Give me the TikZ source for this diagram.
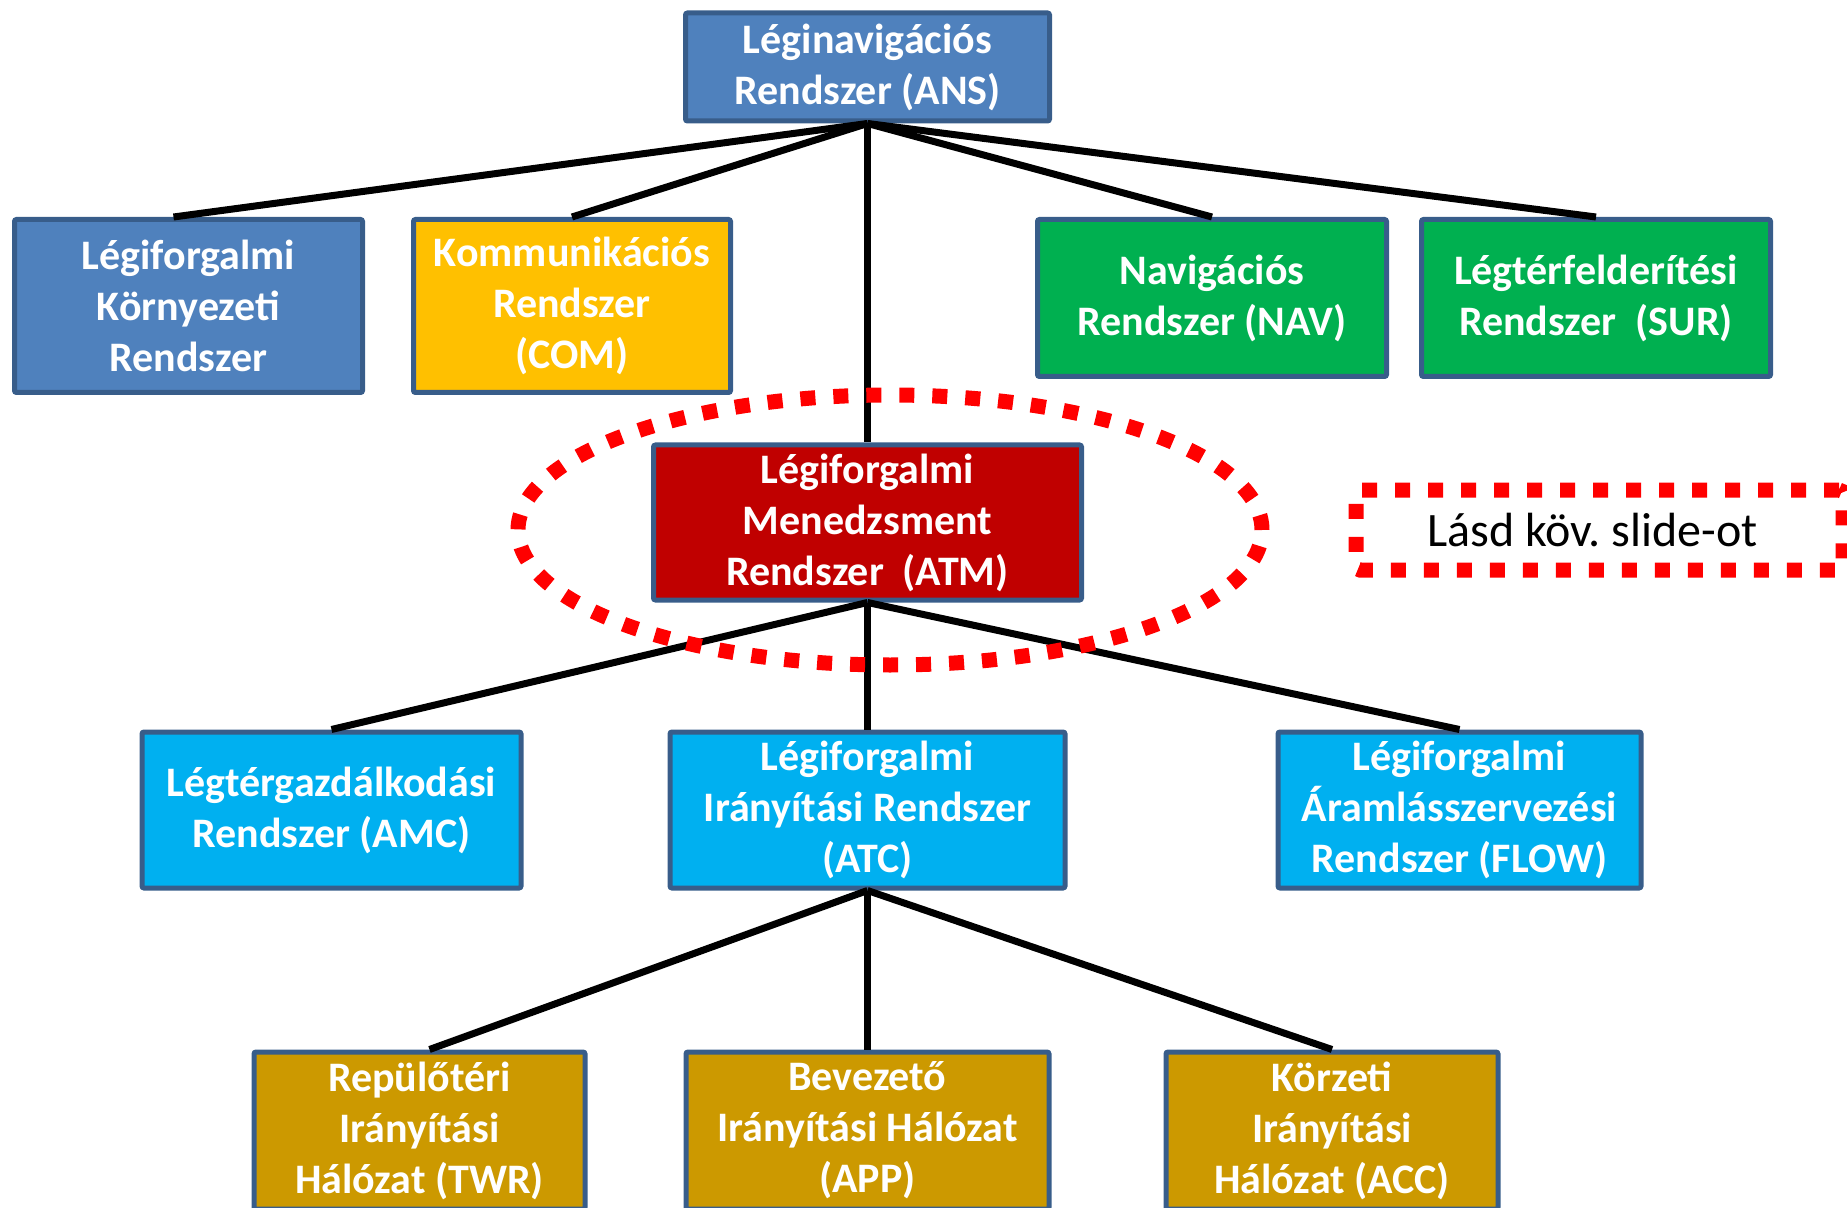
\documentclass[tikz,border=0pt]{standalone}
\usepackage{fontspec}
\setmainfont{Carlito}
\usetikzlibrary{positioning,calc}

\definecolor{ansblue}{HTML}{4F81BD}
\definecolor{boxline}{HTML}{385D8A}
\definecolor{comyellow}{HTML}{FFC000}
\definecolor{navgreen}{HTML}{00B050}
\definecolor{atmred}{HTML}{C00000}
\definecolor{atccyan}{HTML}{00B0F0}
\definecolor{netgold}{HTML}{CC9900}

\begin{document}
\begin{tikzpicture}[x=1pt,y=1pt,
		box/.style={draw=boxline,line width=2.5pt,rounded corners=1pt,text=white,align=center,
			inner sep=0pt,font=\fontsize{21}{25.5}\selectfont\bfseries},
		link/.style={line width=3.5pt},
		dots/.style={draw=red,line width=7.5pt,dash pattern=on 7.5pt off 9pt}]
		\useasboundingbox (0,0) rectangle (923.5,-604);
		
		\node[box,fill=ansblue,minimum width=182pt,minimum height=54pt] (ans) at (433.75,-33.5) {Léginavigációs\\Rendszer (ANS)};
		
		\node[box,fill=ansblue,minimum width=174pt,minimum height=86.5pt,anchor=north west] (env) at (6,-108.5) {Légiforgalmi\\Környezeti\\Rendszer};
		\node[box,fill=comyellow,minimum width=158.5pt,minimum height=86.5pt,right=23pt of env] (com) {Kommunikációs\\Rendszer\\(COM)};
		\node[box,fill=navgreen,minimum width=174.5pt,minimum height=78.5pt,anchor=north west] (nav) at (517.5,-108.5) {Navigációs\\Rendszer (NAV)};
		\node[box,fill=navgreen,minimum width=174.5pt,minimum height=78.5pt,right=15pt of nav] (sur) {Légtérfelderítési\\Rendszer \ (SUR)};
		
		\node[box,fill=atmred,minimum width=214pt,minimum height=77.5pt,below=159.5pt of ans] (atm) {Légiforgalmi\\Menedzsment\\Rendszer \ (ATM)};
		\node[draw=red,line width=7.5pt,dash pattern=on 7.5pt off 9pt,rounded corners=2pt,minimum width=243.5pt,minimum height=40pt,
			font=\fontsize{24}{28}\selectfont] (see) at (799.75,-265) {Lásd köv.\ slide-ot\hspace*{7pt}};
		
		\node[box,fill=atccyan,minimum width=197.5pt,minimum height=78pt,below=63.5pt of atm] (atc) {Légiforgalmi\\Irányítási Rendszer\\(ATC)};
		\node[box,fill=atccyan,minimum width=189.5pt,minimum height=78pt,left=72pt of atc] (amc) {Légtérgazdálkodási\\Rendszer (AMC)};
		\node[box,fill=atccyan,minimum width=181.5pt,minimum height=78pt,right=104pt of atc] (flow) {Légiforgalmi\\Áramlásszervezési\\Rendszer (FLOW)};
		
		\node[box,fill=netgold,minimum width=181.5pt,minimum height=78.5pt,below=79.5pt of atc] (app) {Bevezető\\Irányítási Hálózat\\(APP)};
		\node[box,fill=netgold,minimum width=165.5pt,minimum height=78.5pt,left=48pt of app] (twr) {Repülőtéri\\Irányítási\\Hálózat (TWR)};
		\node[box,fill=netgold,minimum width=166pt,minimum height=78.5pt,right=56pt of app] (acc) {Körzeti\\Irányítási\\Hálózat (ACC)};
		
		\draw[link] (ans.south) -- ($(env.north)+(-7.5,0)$);
		\draw[link] (ans.south) -- (com.north);
		\draw[link] (ans.south) -- (atm.north);
		\draw[link] (ans.south) -- (nav.north);
		\draw[link] (ans.south) -- (sur.north);
		
		\draw[link] (atm.south) -- (amc.north);
		\draw[link] (atm.south) -- (atc.north);
		\draw[link] (atm.south) -- (flow.north);
		
		\draw[link] (atc.south) -- ($(twr.north)+(5,0)$);
		\draw[link] (atc.south) -- (app.north);
		\draw[link] (atc.south) -- (acc.north);
		
		% ATM kiemelese
		\draw[dots] ($(atm.center)+(11.25,-3.75)$) ellipse [x radius=186pt,y radius=67.5pt];
	\end{tikzpicture}
\end{document}
